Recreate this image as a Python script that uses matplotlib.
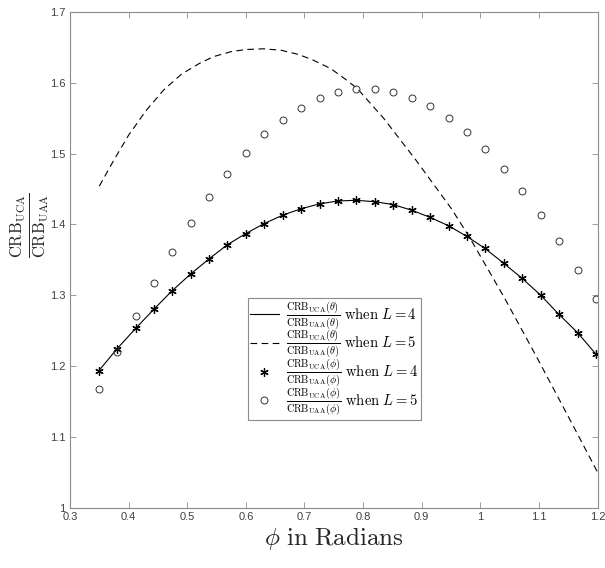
import matplotlib
matplotlib.use("Agg")
import matplotlib.pyplot as plt

plt.rcParams['mathtext.fontset'] = 'cm'
plt.rcParams['font.family'] = ['Liberation Sans', 'DejaVu Sans']

# phi grid (radians)
phi = [0.349, 0.380, 0.412, 0.443, 0.474, 0.506, 0.537, 0.568, 0.600, 0.631,
       0.663, 0.694, 0.726, 0.757, 0.788, 0.820, 0.851, 0.883, 0.914, 0.946,
       0.977, 1.008, 1.040, 1.071, 1.103, 1.134, 1.166, 1.197]

# theta ratio, L = 4 (solid) and phi ratio, L = 4 (stars)
ratio_L4 = [1.193, 1.224, 1.253, 1.280, 1.306, 1.330, 1.351, 1.371, 1.387, 1.401,
            1.413, 1.422, 1.429, 1.433, 1.434, 1.432, 1.428, 1.420, 1.410, 1.398,
            1.383, 1.366, 1.345, 1.324, 1.300, 1.273, 1.247, 1.217]

# phi ratio, L = 5 (circles)
ratio_phi_L5 = [1.167, 1.219, 1.270, 1.317, 1.361, 1.402, 1.438, 1.471, 1.501, 1.527,
                1.548, 1.565, 1.578, 1.587, 1.591, 1.591, 1.587, 1.579, 1.567, 1.550,
                1.530, 1.506, 1.478, 1.447, 1.413, 1.376, 1.336, 1.295]

# theta ratio, L = 5 (dashed)
x_theta_L5 = [0.350, 0.375, 0.400, 0.430, 0.460, 0.490, 0.520, 0.545, 0.575, 0.600,
              0.630, 0.660, 0.690, 0.715, 0.745, 0.770, 0.790, 0.835, 0.890, 0.950,
              0.980, 1.040, 1.096, 1.153, 1.200]
ratio_theta_L5 = [1.454, 1.491, 1.526, 1.561, 1.590, 1.612, 1.627, 1.637, 1.644, 1.647,
                  1.648, 1.646, 1.640, 1.632, 1.620, 1.605, 1.592, 1.550, 1.491, 1.423,
                  1.384, 1.298, 1.213, 1.124, 1.050]

xticks = [0.3, 0.4, 0.5, 0.6, 0.7, 0.8, 0.9, 1.0, 1.1, 1.2]
xticklabels = ['0.3', '0.4', '0.5', '0.6', '0.7', '0.8', '0.9', '1', '1.1', '1.2']
yticks = [1.0, 1.1, 1.2, 1.3, 1.4, 1.5, 1.6, 1.7]
yticklabels = ['1', '1.1', '1.2', '1.3', '1.4', '1.5', '1.6', '1.7']

fig = plt.figure(figsize=(6.05, 5.68), dpi=100)
ax = fig.add_axes([70/605, 1 - 507.5/568, 527.5/605, 495.5/568])

frac_t = r'\frac{\mathrm{CRB_{UCA}}(\theta)}{\mathrm{CRB_{UAA}}(\theta)}'
frac_p = r'\frac{\mathrm{CRB_{UCA}}(\phi)}{\mathrm{CRB_{UAA}}(\phi)}'

ax.plot(phi, ratio_L4, '-', color='black', lw=0.8,
        label=r'$' + frac_t + r'\ \mathrm{when}\ L=4$')
ax.plot(x_theta_L5, ratio_theta_L5, '--', color='black', lw=0.8, dashes=(6, 4),
        label=r'$' + frac_t + r'\ \mathrm{when}\ L=5$')
ax.plot(phi, ratio_L4, linestyle='none', marker=(6, 2, 0), markersize=6,
        markeredgecolor='black', markeredgewidth=0.9,
        label=r'$' + frac_p + r'\ \mathrm{when}\ L=4$')
ax.plot(phi, ratio_phi_L5, linestyle='none', marker='o', markersize=5,
        markerfacecolor='none', markeredgecolor='#333333', markeredgewidth=0.7,
        label=r'$' + frac_p + r'\ \mathrm{when}\ L=5$')

ax.set_xlim(0.3, 1.2)
ax.set_ylim(1.0, 1.7)
ax.set_xticks(xticks)
ax.set_xticklabels(xticklabels)
ax.set_yticks(yticks)
ax.set_yticklabels(yticklabels)
ax.tick_params(direction='in', top=True, right=True, length=4, width=0.6,
               colors='#8c8c8c', labelcolor='#404040', labelsize=8)
for s in ax.spines.values():
    s.set_color('#8c8c8c')
    s.set_linewidth(0.8)

ax.set_xlabel(r'$\phi\ \mathrm{in\ Radians}$', fontsize=18, color='#262626', labelpad=2)
ax.set_ylabel(r'$\frac{\mathrm{CRB_{UCA}}}{\mathrm{CRB_{UAA}}}$', fontsize=17, color='#262626')
ax.yaxis.set_label_coords(-0.036, 0.57)

leg = ax.legend(loc='lower left', bbox_to_anchor=(0.3365, 0.1766), fontsize=10.5,
                frameon=True, fancybox=False, edgecolor='#8c8c8c', framealpha=1,
                handlelength=2.0, handletextpad=0.5, borderpad=0.15, labelspacing=-0.2,
                borderaxespad=0)
leg.get_frame().set_linewidth(0.8)

fig.savefig('out.png', dpi=100)
